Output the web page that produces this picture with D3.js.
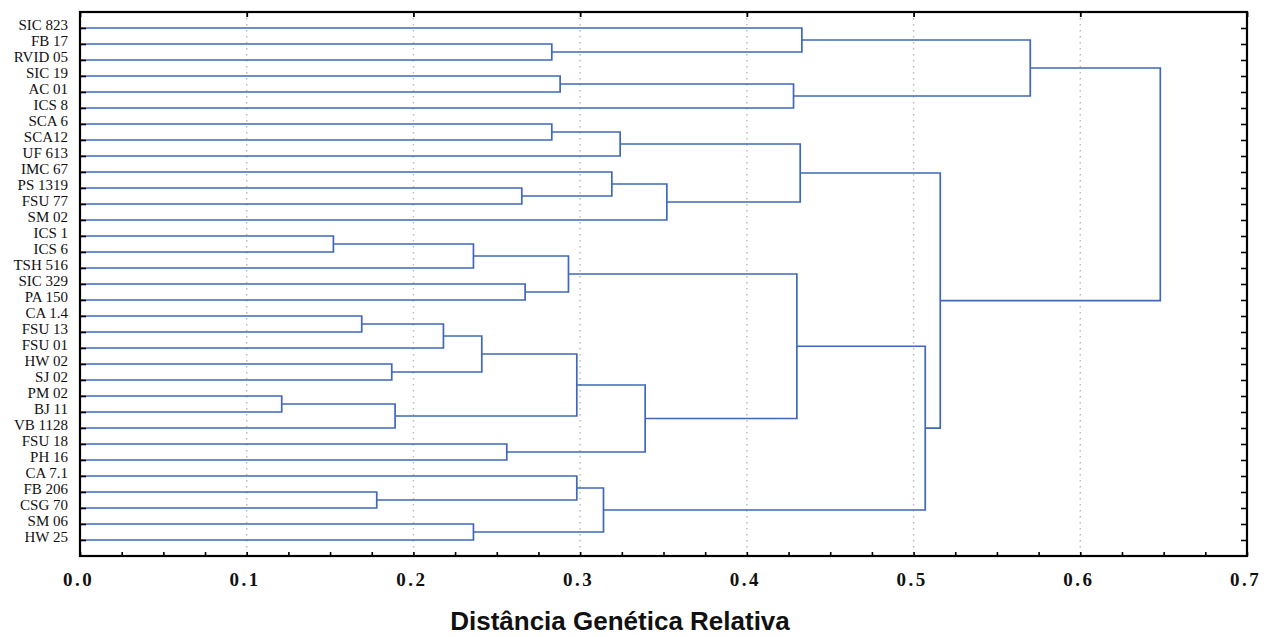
<!DOCTYPE html>
<html>
<head>
<meta charset="utf-8">
<script src="https://cdn.jsdelivr.net/npm/d3@7"></script>
<style>
  body { margin: 0; background: #fff; }
</style>
</head>
<body>
<svg width="1270" height="637"></svg>
<script>
// leaf labels, top to bottom
const leaves = ['SIC 823', 'FB 17', 'RVID 05', 'SIC 19', 'AC 01', 'ICS 8', 'SCA 6', 'SCA12',
  'UF 613', 'IMC 67', 'PS 1319', 'FSU 77', 'SM 02', 'ICS 1', 'ICS 6', 'TSH 516', 'SIC 329',
  'PA 150', 'CA 1.4', 'FSU 13', 'FSU 01', 'HW 02', 'SJ 02', 'PM 02', 'BJ 11', 'VB 1128',
  'FSU 18', 'PH 16', 'CA 7.1', 'FB 206', 'CSG 70', 'SM 06', 'HW 25'];

// joins: [child a, child b, distance]; ids < 33 are leaves, id 33 + k is the k-th join
const joins = [
  [1, 2, 0.283], [0, 33, 0.433], [3, 4, 0.288], [35, 5, 0.428], [34, 36, 0.570],
  [6, 7, 0.283], [38, 8, 0.324], [10, 11, 0.265], [9, 40, 0.319], [41, 12, 0.352],
  [39, 42, 0.432], [13, 14, 0.152], [44, 15, 0.236], [16, 17, 0.267], [45, 46, 0.293],
  [18, 19, 0.169], [48, 20, 0.218], [21, 22, 0.187], [49, 50, 0.241], [23, 24, 0.121],
  [52, 25, 0.189], [51, 53, 0.298], [26, 27, 0.256], [54, 55, 0.339], [47, 56, 0.430],
  [29, 30, 0.178], [28, 58, 0.298], [31, 32, 0.236], [59, 60, 0.314], [57, 61, 0.507],
  [43, 62, 0.516], [37, 63, 0.648]
];

const majorTicks = [0, 0.1, 0.2, 0.3, 0.4, 0.5, 0.6, 0.7];
const minorTicks = d3.range(0, 29).map(i => i * 0.025);

const svg = d3.select('svg');
const mLeft = 80, mRight = 1247, mTop = 12, mBottom = 556;

const x = d3.scaleLinear().domain([0, 0.7]).range([mLeft, mRight]);
const y = d3.scalePoint().domain(leaves).range([28, 540]);

// dotted grid
svg.append('g')
  .selectAll('line')
  .data(majorTicks.slice(1, -1))
  .join('line')
  .attr('x1', d => x(d)).attr('x2', d => x(d))
  .attr('y1', mTop).attr('y2', mBottom)
  .attr('stroke', '#b8b8b8')
  .attr('stroke-width', 1.4)
  .attr('stroke-dasharray', '1.5,4.5');

// node positions
const nodes = leaves.map(l => ({ y: y(l), h: 0 }));
joins.forEach(([a, b, h]) => {
  nodes.push({ y: (nodes[a].y + nodes[b].y) / 2, h: h });
});

svg.append('g')
  .selectAll('path')
  .data(joins)
  .join('path')
  .attr('d', ([a, b, h]) => {
    const A = nodes[a], B = nodes[b];
    return `M${x(A.h)},${A.y}H${x(h)}V${B.y}H${x(B.h)}`;
  })
  .attr('fill', 'none')
  .attr('stroke', '#3f68bb')
  .attr('stroke-width', 1.7);

// axes
const fmt = d3.format('.1f');

svg.append('g')
  .attr('transform', `translate(0,${mBottom})`)
  .call(d3.axisBottom(x).tickValues(minorTicks).tickSize(-4).tickFormat(''))
  .call(g => g.select('.domain').remove())
  .call(g => g.selectAll('line').attr('stroke', '#000').attr('stroke-width', 1.6));

svg.append('g')
  .attr('transform', `translate(0,${mBottom})`)
  .call(d3.axisBottom(x).tickValues(majorTicks).tickSize(0).tickPadding(17).tickFormat(fmt))
  .call(g => g.select('.domain').remove())
  .call(g => g.selectAll('text')
    .attr('dx', -2)
    .attr('font-family', '"Liberation Serif", "Times New Roman", serif')
    .attr('font-weight', 'bold')
    .attr('font-size', 19)
    .attr('letter-spacing', 2.5)
    .attr('fill', '#111'));

svg.append('g')
  .attr('transform', `translate(0,${mTop})`)
  .call(d3.axisTop(x).tickValues(majorTicks).tickSize(-5).tickFormat(''))
  .call(g => g.select('.domain').remove())
  .call(g => g.selectAll('line').attr('stroke', '#000').attr('stroke-width', 1.8));

svg.append('g')
  .attr('transform', `translate(${mLeft},0)`)
  .call(d3.axisLeft(y).tickSize(-6).tickPadding(12))
  .call(g => g.select('.domain').remove())
  .call(g => g.selectAll('line').attr('stroke', '#000').attr('stroke-width', 1.6))
  .call(g => g.selectAll('text')
    .attr('dy', 1)
    .attr('font-family', '"Liberation Serif", "Times New Roman", serif')
    .attr('font-size', 15)
    .attr('fill', '#111'));

svg.append('g')
  .attr('transform', `translate(${mRight},0)`)
  .call(d3.axisRight(y).tickSize(-6).tickFormat(''))
  .call(g => g.select('.domain').remove())
  .call(g => g.selectAll('line').attr('stroke', '#000').attr('stroke-width', 1.6));

// frame
svg.append('rect')
  .attr('x', mLeft).attr('y', mTop)
  .attr('width', mRight - mLeft).attr('height', mBottom - mTop)
  .attr('fill', 'none')
  .attr('stroke', '#000')
  .attr('stroke-width', 2.2);

// axis title
svg.append('text')
  .attr('x', 620).attr('y', 630)
  .attr('text-anchor', 'middle')
  .attr('font-family', '"Liberation Sans", Arial, sans-serif')
  .attr('font-weight', 'bold')
  .attr('font-size', 26)
  .attr('fill', '#111')
  .text('Distância Genética Relativa');
</script>
</body>
</html>
